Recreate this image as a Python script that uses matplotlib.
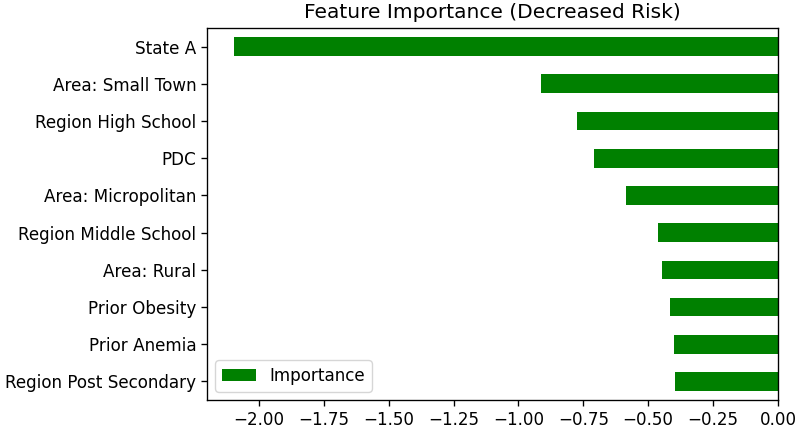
import matplotlib
matplotlib.use('Agg')
import matplotlib.pyplot as plt

# bottom-to-top order, as pandas barh draws it
features = ['Region Post Secondary', 'Prior Anemia', 'Prior Obesity', 'Area: Rural',
            'Region Middle School', 'Area: Micropolitan', 'PDC', 'Region High School',
            'Area: Small Town', 'State A']
importance = [-0.395, -0.401, -0.415, -0.446, -0.461, -0.585, -0.708, -0.775, -0.913, -2.095]

scale = 1.21
plt.rcParams['font.size'] = 10 * scale
plt.rcParams['axes.linewidth'] = 0.8 * scale
plt.rcParams['xtick.major.width'] = 0.8 * scale
plt.rcParams['ytick.major.width'] = 0.8 * scale
plt.rcParams['xtick.major.size'] = 3.5 * scale
plt.rcParams['ytick.major.size'] = 3.5 * scale

fig = plt.figure(figsize=(8, 4.3), dpi=100)
ax = fig.add_axes([207 / 800, 30 / 430, (778 - 207) / 800, (400 - 28) / 430])
pos = range(len(features))
ax.barh(pos, importance, height=0.5, color='green', label='Importance')
ax.set_yticks(list(pos))
ax.set_yticklabels(features)
ax.set_ylim(-0.5, len(features) - 0.5)
ax.set_title('Feature Importance (Decreased Risk)', fontsize=12 * scale, pad=6 * scale)
ax.legend(loc='lower left')

fig.savefig('out.png', dpi=100)
